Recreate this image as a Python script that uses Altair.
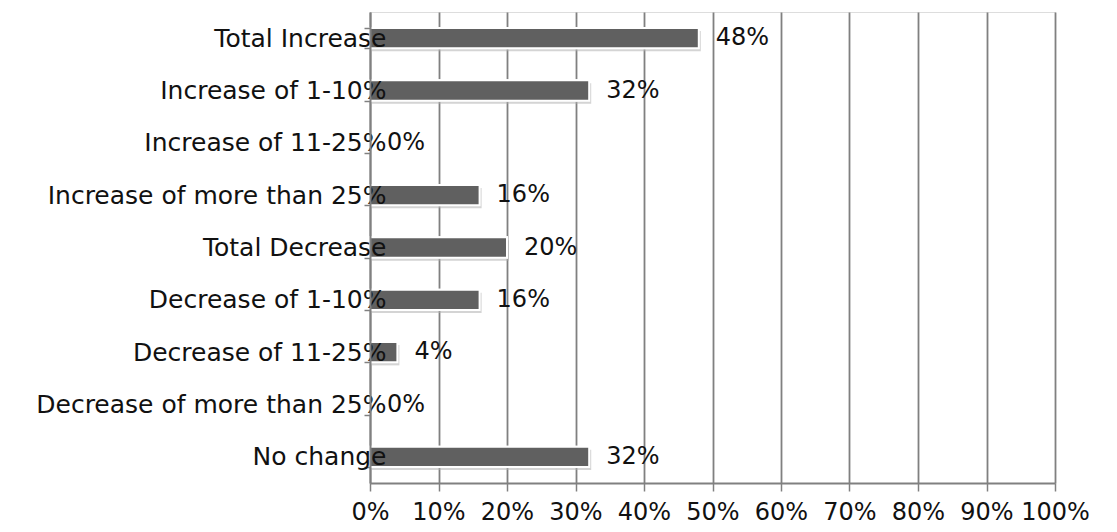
import altair as alt
import pandas as pd

categories = [
    "Total Increase",
    "Increase of 1-10%",
    "Increase of 11-25%",
    "Increase of more than 25%",
    "Total Decrease",
    "Decrease of 1-10%",
    "Decrease of 11-25%",
    "Decrease of more than 25%",
    "No change",
]
values = [0.48, 0.32, 0.0, 0.16, 0.20, 0.16, 0.04, 0.0, 0.32]

df = pd.DataFrame({"category": categories, "value": values})
df["label"] = [f"{round(v*100)}%" for v in values]

FONT = "DejaVu Sans"

y_enc = alt.Y(
    "category:N",
    sort=categories,
    title=None,
    scale=alt.Scale(paddingInner=0.61, paddingOuter=0.305),
    axis=alt.Axis(
        labelFont=FONT,
        labelFontSize=25,
        labelColor="#111111",
        labelPadding=-22,
        labelLimit=600,
        domainColor="#808080",
        domainWidth=2,
        tickColor="#808080",
        tickWidth=1.5,
        tickSize=6,
        tickBand="extent",
        ticks=True,
        zindex=1,
    ),
)

x_enc = alt.X(
    "value:Q",
    title=None,
    scale=alt.Scale(domain=[0, 1], nice=False),
    axis=alt.Axis(
        format=".0%",
        values=[i / 10 for i in range(11)],
        labelFont=FONT,
        labelFontSize=24,
        labelColor="#111111",
        labelPadding=9,
        labelOverlap=False,
        labelFlush=False,
        grid=True,
        gridColor="#808080",
        gridWidth=1.8,
        domainColor="#808080",
        domainWidth=2,
        tickColor="#808080",
        tickWidth=1.5,
        tickSize=8,
    ),
)

shadow = alt.Chart(df).mark_bar(
    color="#b0b0b0", opacity=0.55, xOffset=2, yOffset=3
).encode(
    x=alt.X("value:Q", title=None),
    y=alt.Y("category:N", sort=categories, title=None),
)

bars = alt.Chart(df).mark_bar(
    color="#606060", stroke="#ffffff", strokeWidth=2
).encode(x=x_enc, y=y_enc)

text = alt.Chart(df).mark_text(
    align="left", baseline="middle", dx=17, font=FONT, fontSize=24, color="#111111"
).encode(
    x=alt.X("value:Q", title=None),
    y=alt.Y("category:N", sort=categories, title=None),
    text="label:N",
)

chart = (
    alt.layer(bars, shadow, bars, text)
    .properties(width=685, height=471)
    .configure_view(stroke=None)
    .configure(padding={"left": 27, "top": -8, "right": 5, "bottom": 0})
)

chart.save("out.html", embed_options={"renderer": "svg", "actions": False})
